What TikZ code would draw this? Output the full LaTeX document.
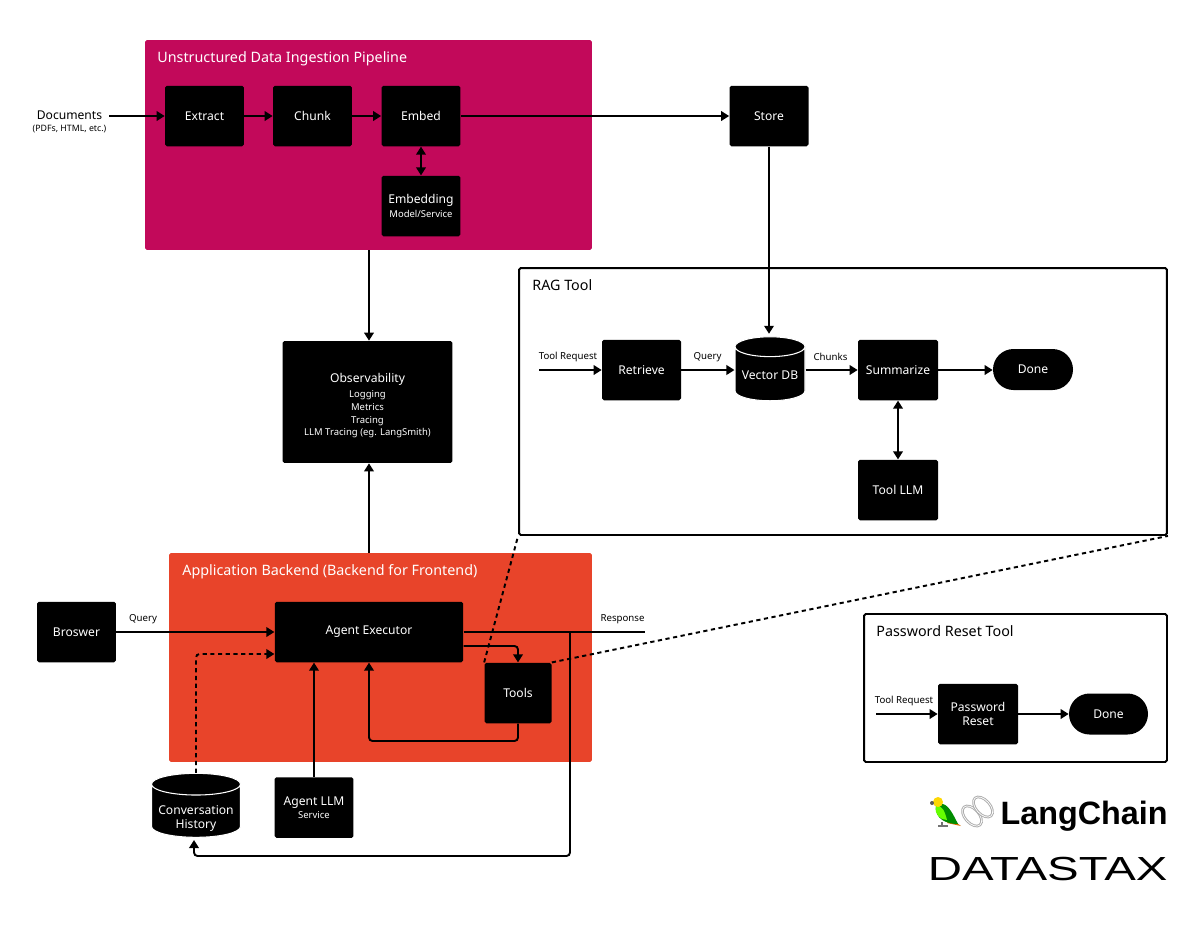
\documentclass[tikz,border=0pt]{standalone}
\usepackage{fontspec}
\setmainfont{Noto Sans}
\newfontfamily\logofont{Liberation Sans}
\usetikzlibrary{arrows.meta,shapes.geometric,shapes.misc}
\definecolor{pipelinecol}{HTML}{C2095A}
\definecolor{backendcol}{HTML}{E8442A}
\newcommand{\subtext}{\fontsize{5.4}{7.2}\selectfont}
\tikzset{
  blackbox/.style={fill=black,text=white,rounded corners=1pt,align=center,
    minimum width=1.58cm,minimum height=1.21cm,inner sep=0pt,font=\fontsize{6.9}{8.6}\selectfont},
  panel/.style={rounded corners=1pt,inner sep=0pt},
  toolpanel/.style={draw=black,line width=1.1pt,fill=white,rounded corners=1pt,inner sep=0pt},
  title/.style={anchor=west,inner sep=0pt,font=\fontsize{8.15}{10}\selectfont},
  lbl/.style={inner sep=0pt,align=center,font=\fontsize{5.5}{7}\selectfont},
  pill/.style={blackbox,minimum height=.82cm,rounded corners=.41cm},
  dbase/.style={cylinder,shape border rotate=90,aspect=.31,draw=white,line width=.6pt,
    cylinder uses custom fill,cylinder body fill=black,cylinder end fill=black,inner sep=0pt},
  dbtext/.style={text=white,align=center,inner sep=0pt,font=\fontsize{6.9}{8}\selectfont},
  tip/.style={-{Triangle[length=.16cm,width=.19cm]}},
  conn/.style={line width=1.1pt,tip},
  link/.style={line width=1.1pt,{Triangle[length=.16cm,width=.19cm]}-{Triangle[length=.16cm,width=.19cm]}},
  plain/.style={line width=1.1pt},
  dashlink/.style={line width=1.1pt,dash pattern=on 2.4pt off 2pt}
}
\begin{document}
\begin{tikzpicture}[x=.02cm,y=-.02cm]
  \useasboundingbox (0,0) rectangle (1200,924);

  % coloured groups
  \node[panel,fill=pipelinecol,minimum width=8.94cm,minimum height=4.2cm] (pipeline) at (368.5,145) {};
  \node[title,text=white] (pipelinetitle) at (157,58.5) {Unstructured Data Ingestion Pipeline};
  \node[panel,fill=backendcol,minimum width=8.46cm,minimum height=4.18cm] (backend) at (380.5,657.5) {};
  \node[title,text=white] (backendtitle) at (182,571.5) {Application Backend (Backend for Frontend)};

  % tool groups
  \node[toolpanel,minimum width=12.96cm,minimum height=5.34cm] (rag) at (843,401.5) {};
  \node[title] (ragtitle) at (532,285.5) {RAG Tool};
  \node[toolpanel,minimum width=6.06cm,minimum height=2.96cm] (pwtool) at (1015.5,688) {};
  \node[title] (pwtitle) at (876,631.5) {Password Reset Tool};

  % ingestion
  \node[lbl,font=\fontsize{6.9}{8.6}\selectfont] (docs) at (69.5,115) {Documents};
  \node[lbl,font=\fontsize{5}{7}\selectfont] (docsnote) at (69.5,129.5) {(PDFs, HTML, etc.)};
  \coordinate (docsout) at (109,116);
  \node[blackbox] (extract) at (204.5,116) {Extract};
  \node[blackbox] (chunk) at (312.5,116) {Chunk};
  \node[blackbox] (embed) at (421,116) {Embed};
  \node[blackbox] (embedding) at (421,206) {Embedding\\[-1pt]{\subtext Model/Service}};
  \node[blackbox] (store) at (769,116) {Store};
  \node[blackbox,minimum width=3.4cm,minimum height=2.44cm] (obs) at (367.5,402)
    {\rule{0pt}{9.6pt}Observability\\[-.2pt]{\subtext Logging}\\[-1.3pt]{\subtext Metrics}\\[-1.3pt]{\subtext Tracing}\\[-1.3pt]{\subtext LLM Tracing (eg. LangSmith)}};

  % rag tool
  \coordinate (ragin) at (539,370);
  \node[blackbox] (retrieve) at (641.5,370) {Retrieve};
  \node[dbase,minimum width=1.4cm,minimum height=1.28cm] (vdb) at (770,374) {\rule{1.28cm}{0pt}};
  \node[dbtext] (vdbtext) at (770,375) {Vector DB};
  \node[blackbox,minimum width=1.6cm] (summarize) at (898,370) {Summarize};
  \node[pill,minimum width=1.6cm] (ragdone) at (1033,369.5) {Done};
  \node[blackbox,minimum width=1.6cm] (toolllm) at (898,490) {Tool LLM};
  \node[lbl] (toolreq) at (568,357) {Tool Request};
  \node[lbl] (querylbl) at (707.5,357) {Query};
  \node[lbl] (chunkslbl) at (830.5,357) {Chunks};

  % password reset tool
  \coordinate (pwin) at (876,714);
  \node[blackbox,minimum width=1.6cm] (pwreset) at (978,714) {Password\\[-.5pt]Reset};
  \node[pill] (pwdone) at (1108.5,714) {Done};
  \node[lbl] (pwreq) at (904,701) {Tool Request};

  % application
  \node[blackbox] (browser) at (76.5,632) {Broswer};
  \node[blackbox,minimum width=3.77cm] (agent) at (369,632) {Agent Executor};
  \node[blackbox,minimum width=1.34cm] (tools) at (518,693) {Tools};
  \node[dbase,minimum width=1.78cm,minimum height=1.28cm] (history) at (196,811) {\rule{1.4cm}{0pt}};
  \node[dbtext] (historytext) at (196,818) {Conversation\\History};
  \node[blackbox] (agentllm) at (314,807.5) {Agent LLM\\[-1pt]{\subtext Service}};
  \node[lbl] (querylbl2) at (143,619) {Query};
  \node[lbl] (resplbl) at (622.5,619.5) {Response};
  \coordinate (respout) at (645,632);
  \coordinate (respsplit) at (570,632);

  % connectors
  \draw[conn] (docsout) -- (extract.west |- docsout);
  \draw[conn] (extract) -- (chunk);
  \draw[conn] (chunk) -- (embed);
  \draw[conn] (embed) -- (store);
  \draw[link] (embed) -- (embedding);
  \draw[conn,shorten >=.05cm] (store) -- (store |- vdb.north);
  \draw[conn] (pipeline.south -| agent) -- (obs.north -| agent);
  \draw[conn] (backend.north -| agent) -- (obs.south -| agent);

  \draw[conn] (ragin) -- (retrieve.west |- ragin);
  \draw[conn] (retrieve) -- (vdb.west |- retrieve);
  \draw[conn] (vdb.east |- retrieve) -- (summarize);
  \draw[conn] (summarize.east) -- (ragdone.west |- summarize.east);
  \draw[link] (summarize) -- (toolllm);
  \draw[conn] (pwin) -- (pwreset.west |- pwin);
  \draw[conn] (pwreset) -- (pwdone);

  \draw[conn] (browser) -- (agent);
  \draw[plain] (agent.east |- respout) -- (respout);
  \draw[conn,rounded corners=2pt] (respsplit) |- (194,856) -- (194,840);
  \draw[conn,rounded corners=2pt] (agent.east |- 0,646) -| (tools.north);
  \draw[conn,rounded corners=2pt] (tools.south) |- (agent.south |- 0,741) -- (agent.south);
  \draw[conn] (agentllm.north) -- (agentllm.north |- agent.south);
  \draw[dashlink,tip,rounded corners=2pt] (history.north) |- (agent.west |- 0,654);
  \draw[dashlink] (tools.north west) -- (rag.south west);
  \draw[dashlink] (tools.north east) -- (rag.south east);

  % parrot and chain
  \fill[orange!85!black] (950,818) -- (961,826) -- (947,823) -- cycle;
  \fill[green!55!black] (936,805) .. controls (946,800) and (951,810) .. (958,824) .. controls (948,824) and (934,820) .. cycle;
  \fill[green!60!yellow] (936,806) .. controls (942,804) and (945,812) .. (947,820) .. controls (940,820) and (934,814) .. cycle;
  \fill[yellow!75!orange] (938,802) circle (5);
  \fill[black!65] (932,803) circle (2);
  \draw[black!55,line width=.6pt] (942,822) -- (942,826) (938,826) -- (948,826);
  \draw[gray!65,line width=1.5pt] (972,816) ellipse [x radius=12,y radius=7,rotate=-48];
  \draw[white,line width=.4pt] (972,816) ellipse [x radius=12,y radius=7,rotate=-48];
  \draw[gray!65,line width=1.5pt] (983,807) ellipse [x radius=12,y radius=7,rotate=-48];
  \draw[white,line width=.4pt] (983,807) ellipse [x radius=12,y radius=7,rotate=-48];

  % logos
  \node[anchor=east,inner sep=0pt,font=\logofont\bfseries\fontsize{18.4}{20}\selectfont] (langchain) at (1168,816) {LangChain};
  \node[anchor=east,inner sep=0pt,xscale=1.42,font=\logofont\fontsize{19}{20}\selectfont] (datastax) at (1168,868.5) {DATASTAX};
\end{tikzpicture}
\end{document}
